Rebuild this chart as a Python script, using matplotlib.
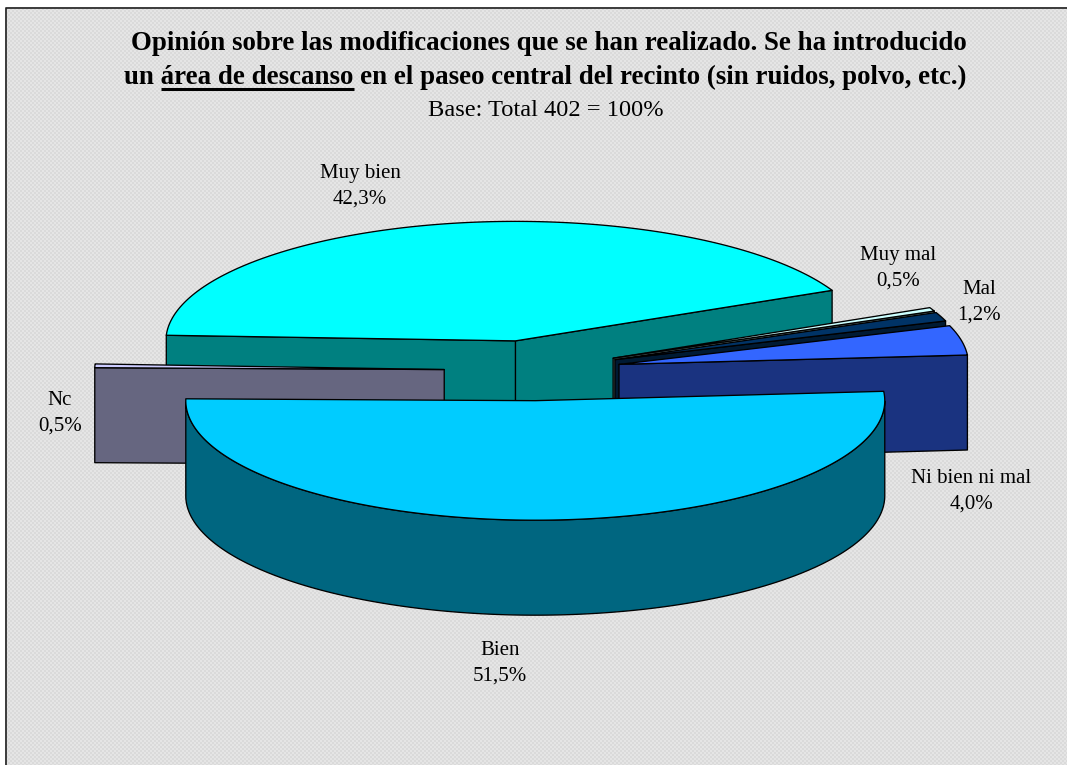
import numpy as np
import matplotlib
matplotlib.use("Agg")
import matplotlib.pyplot as plt

labels = ["Muy bien", "Muy mal", "Mal", "Ni bien ni mal", "Bien", "Nc"]
values = [42.3, 0.5, 1.2, 4.0, 51.5, 0.5]
top_colors = ["#00FFFF", "#CCFFFF", "#003366", "#3366FF", "#00CCFF", "#CCCCFF"]
side_colors = ["#008080", "#667F7F", "#001A33", "#1A3380", "#006680", "#666680"]
draw_order = [0, 1, 2, 3, 5, 4]
label_pos = [(360, 204), (898, 285.5), (979, 320), (971, 508.5), (500, 681), (60, 431)]

CX, CY, A, B, DEPTH = 532.5, 370.5, 349.5, 119.5, 95.0
EXPLODE = 0.2527
START = 177.3
TITLE_SIZE = 19.4

plt.rcParams["font.family"] = ["Liberation Serif", "DejaVu Serif"]
fig = plt.figure(figsize=(10.67, 7.65), dpi=100, facecolor="white")
ax = fig.add_axes([0, 0, 1, 1])
ax.set_xlim(0, 1067)
ax.set_ylim(765, 0)
ax.axis("off")

# chart area with fine dither
yy, xx = np.mgrid[0:765, 0:1067]
pat = np.where((xx // 2 + yy // 2) % 2 == 0, 0.895, 0.855)
ax.imshow(pat, cmap="gray", vmin=0, vmax=1, extent=(0, 1067, 765, 0),
          interpolation="nearest", aspect="auto", zorder=0)
ax.set_xlim(0, 1067)
ax.set_ylim(765, 0)
ax.fill([0, 1067, 1067, 0], [0, 0, 7, 7], color="white", lw=0, zorder=1)
ax.fill([0, 5, 5, 0], [0, 0, 765, 765], color="white", lw=0, zorder=1)
ax.plot([5.5, 5.5, 1067], [765, 7.5, 7.5], color="#202020", lw=1.2, zorder=2)

# slice angles, clockwise from START
ends = START - np.cumsum(values) * 3.6
starts = ends + np.array(values) * 3.6

z = 3
def poly(x, y, color):
    global z
    ax.fill(x, y, facecolor=color, edgecolor="black", lw=0.95, joinstyle="round", zorder=z)
    z += 1

for i in draw_order:
    t1, t2 = np.radians(ends[i]), np.radians(starts[i])
    mid = (t1 + t2) / 2
    cx = CX + EXPLODE * A * np.cos(mid)
    cy = CY - EXPLODE * B * np.sin(mid)
    px = lambda t: cx + A * np.cos(t)
    py = lambda t: cy - B * np.sin(t)
    # flat cut faces, only those turned to the viewer
    for t, visible in ((t1, np.cos(t1) > 0), (t2, np.cos(t2) < 0)):
        if visible:
            poly([cx, px(t), px(t), cx], [cy, py(t), py(t) + DEPTH, cy + DEPTH], side_colors[i])
    ts = np.linspace(t1, t2, 240)
    # outer wall: the part of the rim on the near half
    near = ts[np.sin(ts) <= 0]
    if near.size > 1:
        poly(np.r_[px(near), px(near[::-1])], np.r_[py(near), py(near[::-1]) + DEPTH], side_colors[i])
    poly(np.r_[cx, px(ts)], np.r_[cy, py(ts)], top_colors[i])

# titles
tkw = dict(ha="center", va="baseline", color="black", zorder=50)
ax.text(548.5, 50, "Opinión sobre las modificaciones que se han realizado. Se ha introducido",
        fontsize=TITLE_SIZE, fontweight="bold", **tkw)
line2 = "un área de descanso en el paseo central del recinto (sin ruidos, polvo, etc.)"
t2_text = ax.text(545.5, 84, line2, fontsize=TITLE_SIZE, fontweight="bold", **tkw)
ax.text(546, 116, "Base: Total 402 = 100%", fontsize=17.6, **tkw)

fig.canvas.draw()
r = fig.canvas.get_renderer()
def width(s):
    tmp = ax.text(0, 0, s, fontsize=TITLE_SIZE, fontweight="bold")
    w = tmp.get_window_extent(r).width
    tmp.remove()
    return w
x0 = t2_text.get_window_extent(r).x0
ux0 = x0 + width("un ")
ux1 = x0 + width("un área de descanso")
ax.plot([ux0, ux1], [88.5, 88.5], color="black", lw=2.2, zorder=50, solid_capstyle="butt")

# data labels
for lab, v, (x, y) in zip(labels, values, label_pos):
    txt = f"{lab}\n{v:.1f}%".replace(".", ",")
    ax.text(x, y, txt, ha="center", va="baseline", fontsize=15, linespacing=1.48,
            multialignment="center", color="black", zorder=50)

fig.savefig("out.png", dpi=100, facecolor="white")
